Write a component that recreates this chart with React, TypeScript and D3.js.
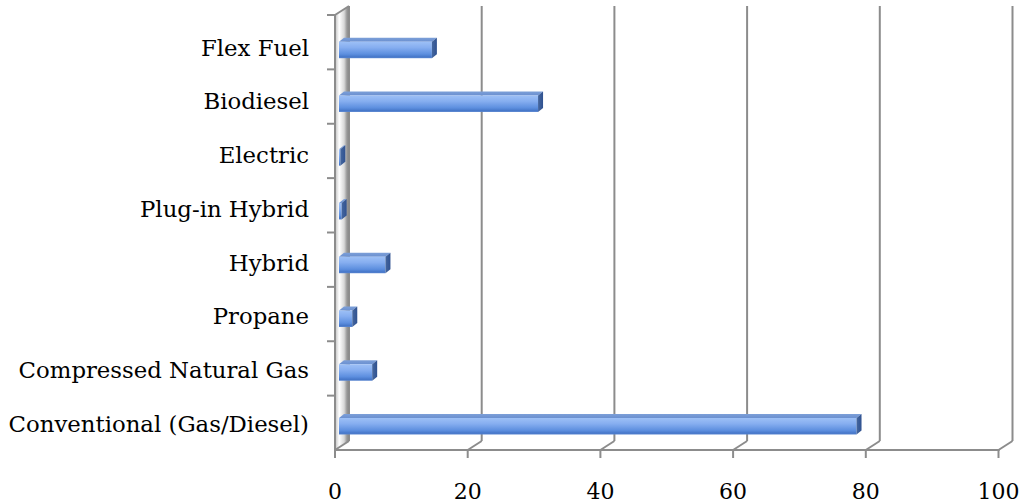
import React from "react";
import * as d3 from "d3";

// Vehicle counts by fuel type
const categories = [
  "Conventional (Gas/Diesel)",
  "Compressed Natural Gas",
  "Propane",
  "Hybrid",
  "Plug-in Hybrid",
  "Electric",
  "Biodiesel",
  "Flex Fuel",
];
const values = [78, 5, 2, 7, 0.4, 0.2, 30, 14];
const xTicks = [0, 20, 40, 60, 80, 100];

const W = 1023;
const H = 504;
const FONT = "'DejaVu Serif', 'Liberation Serif', serif";

// front plane of the plot box
const x = d3.scaleLinear().domain([0, 100]).range([335, 998.5]);
const yBand = d3.scaleBand().domain(categories).range([450, 15]).paddingInner(0).paddingOuter(0);
// rows of bars and labels sit slightly deeper in the box
const yRow = d3.scalePoint().domain(categories).range([418, 41.7]);

// depth of the box (back wall offset) and of a bar
const depthX = 14;
const depthY = 9;
const barOffX = 4;
const barH = 16.5;
const barDX = 5;
const barDY = 4;
const gridColor = "#8c8c8c";

export default function App() {
  const x0 = x(0);
  const yTop = yBand.range()[1];
  const yBot = yBand.range()[0];
  const boundaries = categories.map((c) => yBand(c)!).concat([yTop]);

  return (
    <svg
      width={W}
      height={H}
      style={{ position: "absolute", left: 0, top: 0, background: "#fff" }}
    >
      <defs>
        <linearGradient id="wall" x1="0" x2="1" y1="0" y2="0">
          <stop offset="0" stopColor="#c0c0c0" />
          <stop offset="0.3" stopColor="#ffffff" />
          <stop offset="0.65" stopColor="#d8d8d8" />
          <stop offset="0.88" stopColor="#8f8f8f" />
          <stop offset="1" stopColor="#b5b5b5" />
        </linearGradient>
        <linearGradient id="barFront" x1="0" x2="0" y1="0" y2="1">
          <stop offset="0" stopColor="#9dc0f6" />
          <stop offset="0.35" stopColor="#86aef0" />
          <stop offset="0.75" stopColor="#5d8fdf" />
          <stop offset="0.92" stopColor="#4677c9" />
          <stop offset="1" stopColor="#5a86d0" />
        </linearGradient>
        <linearGradient id="barTop" x1="0" x2="0" y1="0" y2="1">
          <stop offset="0" stopColor="#7c9fd8" />
          <stop offset="1" stopColor="#6b90d0" />
        </linearGradient>
        <linearGradient id="barSide" x1="0" x2="1" y1="0" y2="0">
          <stop offset="0" stopColor="#45679f" />
          <stop offset="1" stopColor="#2f5190" />
        </linearGradient>
      </defs>

      {/* left side wall */}
      <polygon
        points={`${x0},${yTop} ${x0 + depthX},${yTop - depthY} ${x0 + depthX},${yBot - depthY} ${x0},${yBot}`}
        fill="url(#wall)"
      />
      <line x1={x0} x2={x0} y1={yTop} y2={yBot} stroke={gridColor} strokeWidth={2} />
      <line
        x1={x0 + depthX}
        x2={x0 + depthX}
        y1={yTop - depthY}
        y2={yBot - depthY}
        stroke={gridColor}
        strokeWidth={2}
      />
      <line x1={x0} x2={x0 + depthX} y1={yTop} y2={yTop - depthY} stroke={gridColor} strokeWidth={2} />

      {/* category tick marks */}
      {boundaries.map((b, i) => (
        <line key={i} x1={x0 - 8} x2={x0} y1={b} y2={b} stroke={gridColor} strokeWidth={2} />
      ))}

      {/* back-wall gridlines and floor edges */}
      {xTicks.map((t) => (
        <g key={t}>
          {t > 0 && (
            <line
              x1={x(t) + depthX}
              x2={x(t) + depthX}
              y1={yTop - depthY}
              y2={yBot - depthY}
              stroke={gridColor}
              strokeWidth={2}
            />
          )}
          <line x1={x(t)} x2={x(t) + depthX} y1={yBot} y2={yBot - depthY} stroke={gridColor} strokeWidth={2} />
          <line x1={x(t)} x2={x(t)} y1={yBot} y2={yBot + 8} stroke={gridColor} strokeWidth={2} />
          <text
            x={x(t)}
            y={499}
            textAnchor="middle"
            fontFamily={FONT}
            fontSize={22}
            fill="#000"
          >
            {t}
          </text>
        </g>
      ))}
      <line x1={x0 - 1} x2={x(100) + 1} y1={yBot} y2={yBot} stroke={gridColor} strokeWidth={2} />

      {/* 3D bars */}
      {categories.map((c, i) => {
        const v = values[i];
        const bx0 = x(0) + barOffX;
        const bx1 = x(v) + barOffX;
        const yt = yRow(c)!;
        return (
          <g key={c}>
            <polygon
              points={`${bx0},${yt} ${bx1},${yt} ${bx1 + barDX},${yt - barDY} ${bx0 + barDX},${yt - barDY}`}
              fill="url(#barTop)"
            />
            <rect x={bx0} y={yt} width={bx1 - bx0} height={barH} fill="url(#barFront)" />
            <polygon
              points={`${bx1},${yt} ${bx1 + barDX},${yt - barDY} ${bx1 + barDX},${yt + barH - barDY} ${bx1},${yt + barH}`}
              fill="url(#barSide)"
            />
          </g>
        );
      })}

      {/* category labels */}
      {categories.map((c) => (
        <text
          key={c}
          x={309}
          y={yRow(c)! + 14}
          textAnchor="end"
          fontFamily={FONT}
          fontSize={22.8}
          fill="#000"
        >
          {c}
        </text>
      ))}
    </svg>
  );
}
